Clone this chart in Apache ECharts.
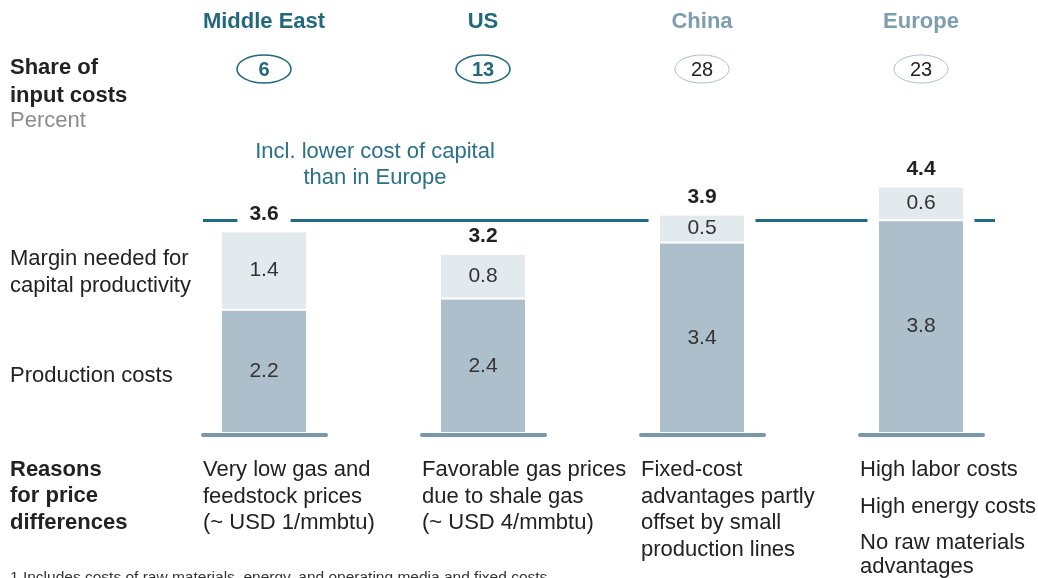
<!DOCTYPE html>
<html>
<head>
<meta charset="utf-8">
<script src="https://cdn.jsdelivr.net/npm/echarts@6/dist/echarts.min.js"></script>
<style>html,body{margin:0;padding:0;background:#fff}#mainContent{width:1038px;height:578px}</style>
</head>
<body>
<div id="mainContent"></div>
<script>
// data
var regions = ['Middle East', 'US', 'China', 'Europe'];
var productionCosts = [2.2, 2.4, 3.4, 3.8];
var capitalMargin = [1.4, 0.8, 0.5, 0.6];
var totals = [3.6, 3.2, 3.9, 4.4];
var inputShare = [6, 13, 28, 23];
var europeLevel = 3.8;
var highlighted = [true, true, false, false];
var reasons = [
    ['Very low gas and', 'feedstock prices', '(~ USD 1/mmbtu)'],
    ['Favorable gas prices', 'due to shale gas', '(~ USD 4/mmbtu)'],
    ['Fixed-cost', 'advantages partly', 'offset by small', 'production lines'],
    ['High labor costs', 'High energy costs', 'No raw materials', 'advantages']
];

var font = 'Arial, "Liberation Sans", sans-serif';
var teal = '#22687e';
var paleTeal = '#7d9db0';

var myChart = echarts.init(document.getElementById('mainContent'));

option = {
    animation: false,
    grid: { left: 154.5, right: 7.5, top: 97, bottom: 145 },
    xAxis: [
        { type: 'category', data: regions, show: false },
        { type: 'category', data: regions, show: false }
    ],
    yAxis: { type: 'value', min: 0, max: 6, show: false },
    series: [{
        // white halo behind bars, breaks the Europe line
        name: 'total',
        type: 'bar',
        xAxisIndex: 1,
        barWidth: 107,
        z: 2,
        silent: true,
        data: totals,
        itemStyle: { color: '#fff' },
        label: {
            show: true, position: 'top', distance: 5,
            formatter: function (p) { return p.value.toFixed(1); },
            fontFamily: font, fontSize: 21, fontWeight: 'bold', color: '#222',
            backgroundColor: '#fff', padding: [2, 12]
        },
        markLine: {
            z: 1,
            silent: true,
            symbol: 'none',
            label: { show: false },
            lineStyle: { color: '#1f6b82', width: 3, type: 'solid' },
            data: [[{ yAxis: europeLevel, x: 203 }, { yAxis: europeLevel, x: 995 }]]
        }
    }, {
        name: 'Production costs',
        type: 'bar',
        stack: 'cost',
        barWidth: 86,
        z: 3,
        silent: true,
        data: productionCosts,
        itemStyle: { color: '#adbfcb', borderColor: '#fff', borderWidth: 1 },
        label: {
            show: true, position: 'inside',
            formatter: function (p) { return p.value.toFixed(1); },
            fontFamily: font, fontSize: 21, color: '#333'
        }
    }, {
        name: 'Margin needed for capital productivity',
        type: 'bar',
        stack: 'cost',
        barWidth: 86,
        z: 3,
        silent: true,
        data: capitalMargin,
        itemStyle: { color: '#e3eaee', borderColor: '#fff', borderWidth: 1 },
        label: {
            show: true, position: 'inside',
            formatter: function (p) { return p.value.toFixed(1); },
            fontFamily: font, fontSize: 21, color: '#333'
        }
    }, {
        // base line under each bar
        type: 'custom',
        z: 4,
        silent: true,
        data: regions.map(function (r, i) { return [i]; }),
        encode: { x: 0 },
        renderItem: function (params, api) {
            var p = api.coord([api.value(0), 0]);
            return {
                type: 'line',
                shape: { x1: p[0] - 61, y1: p[1] + 2, x2: p[0] + 62, y2: p[1] + 2 },
                style: { stroke: '#7897aa', lineWidth: 4, lineCap: 'round' }
            };
        }
    }]
};

myChart.setOption(option);

function text(x, y, s, opt) {
    opt = opt || {};
    return {
        type: 'text', x: x, y: y, silent: true,
        style: {
            text: s,
            fill: opt.color || '#222',
            fontFamily: font,
            fontSize: opt.size || 22,
            fontWeight: opt.bold ? 'bold' : 'normal',
            align: opt.align || 'left',
            verticalAlign: opt.valign || 'middle'
        }
    };
}

var graphics = [];
// left row titles
graphics.push(text(10, 68, 'Share of', { bold: true }));
graphics.push(text(10, 96, 'input costs', { bold: true }));
graphics.push(text(10, 121, 'Percent', { color: '#8c8c8c' }));
graphics.push(text(10, 259, 'Margin needed for'));
graphics.push(text(10, 286, 'capital productivity'));
graphics.push(text(10, 376, 'Production costs'));
graphics.push(text(10, 470, 'Reasons', { bold: true }));
graphics.push(text(10, 496, 'for price', { bold: true }));
graphics.push(text(10, 523, 'differences', { bold: true }));

// annotation above Middle East / US
graphics.push(text(375, 152, 'Incl. lower cost of capital', { color: '#2a7089', align: 'center' }));
graphics.push(text(375, 178, 'than in Europe', { color: '#2a7089', align: 'center' }));

regions.forEach(function (r, i) {
    var cx = myChart.convertToPixel({ xAxisIndex: 0 }, r);
    var hi = highlighted[i];
    graphics.push(text(cx, 22, r, { bold: true, color: hi ? teal : paleTeal, align: 'center' }));
    graphics.push({
        type: 'ellipse', silent: true,
        shape: { cx: cx, cy: 69, rx: 27, ry: 14 },
        style: { fill: '#fff', stroke: hi ? teal : '#a9bdc9', lineWidth: hi ? 1.6 : 1 }
    });
    graphics.push(text(cx, 70, String(inputShare[i]), { bold: hi, color: hi ? teal : '#222', size: 20, align: 'center' }));

    var ys = i === 3 ? [470, 507, 543, 567] : [470, 496.5, 523, 549.5];
    reasons[i].forEach(function (line, j) {
        graphics.push(text(cx - 61, ys[j], line));
    });
});

graphics.push(text(10, 570, '1 Includes costs of raw materials, energy, and operating media and fixed costs', { size: 15.5, color: '#333', valign: 'top' }));

myChart.setOption({ graphic: graphics });
</script>
</body>
</html>
